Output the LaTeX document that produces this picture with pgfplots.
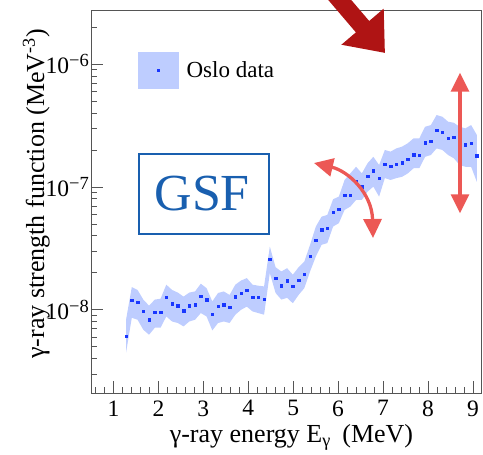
\documentclass[border=0pt]{standalone}
\usepackage{fontspec}
\setmainfont{Liberation Serif}
\usepackage{pgfplots}
\pgfplotsset{compat=1.18}
\usepackage{pgfplotstable}
\usepgfplotslibrary{fillbetween}
\usetikzlibrary{arrows.meta}

\definecolor{bandblue}{RGB}{190,205,255}
\definecolor{ptblue}{RGB}{25,55,255}
\definecolor{gsfblue}{RGB}{25,95,175}
\definecolor{darkarrow}{RGB}{175,20,20}
\definecolor{lightarrow}{RGB}{236,88,85}
\definecolor{axisgray}{RGB}{85,85,85}

\newcommand{\tkf}{\fontsize{23.5}{27}\selectfont}
\newcommand{\tenexp}[1]{{\tkf 10\raisebox{7.3pt}{\fontsize{18.5}{20}\selectfont #1}}}

% E (MeV), f (MeV^-3), lower band, upper band
\pgfplotstableread{
E y lo hi
1.280 6.07e-9 4.47e-9 8.29e-9
1.408 1.20e-8 8.61e-9 1.53e-8
1.536 1.15e-8 8.29e-9 1.45e-8
1.664 9.7e-9 6.88e-9 1.21e-8
1.792 8.3e-9 6.26e-9 1.08e-8
1.920 9.6e-9 7.14e-9 1.21e-8
2.048 9.6e-9 7.14e-9 1.23e-8
2.176 1.27e-8 8.82e-9 1.60e-8
2.304 1.12e-8 8.03e-9 1.45e-8
2.432 1.08e-8 7.80e-9 1.38e-8
2.560 9.8e-9 7.32e-9 1.28e-8
2.688 1.08e-8 8.03e-9 1.38e-8
2.816 1.10e-8 8.29e-9 1.41e-8
2.944 1.29e-8 9.40e-9 1.63e-8
3.072 1.21e-8 8.82e-9 1.50e-8
3.200 9.2e-9 6.79e-9 1.17e-8
3.328 1.07e-8 7.80e-9 1.37e-8
3.456 1.10e-8 8.03e-9 1.41e-8
3.584 1.05e-8 7.80e-9 1.32e-8
3.712 1.28e-8 9.11e-9 1.60e-8
3.840 1.36e-8 1.00e-8 1.73e-8
3.968 1.45e-8 1.06e-8 1.81e-8
4.096 1.26e-8 9.69e-9 1.60e-8
4.224 1.26e-8 9.40e-9 1.57e-8
4.352 1.22e-8 9.11e-9 1.55e-8
4.480 2.58e-8 1.99e-8 3.27e-8
4.608 1.80e-8 1.37e-8 2.22e-8
4.736 1.57e-8 1.21e-8 2.05e-8
4.864 1.72e-8 1.25e-8 2.18e-8
4.992 1.55e-8 1.13e-8 1.93e-8
5.120 1.74e-8 1.32e-8 2.22e-8
5.248 1.95e-8 1.50e-8 2.47e-8
5.376 2.73e-8 2.05e-8 3.38e-8
5.504 3.69e-8 2.71e-8 4.76e-8
5.632 4.50e-8 3.38e-8 5.73e-8
5.760 4.64e-8 3.49e-8 5.92e-8
5.888 6.23e-8 4.76e-8 7.94e-8
6.016 6.59e-8 5.07e-8 8.34e-8
6.144 8.61e-8 6.50e-8 1.14e-7
6.272 8.61e-8 6.92e-8 1.29e-7
6.400 1.115e-7 7.84e-8 1.46e-7
6.528 1.004e-7 7.84e-8 1.29e-7
6.656 1.22e-7 9.16e-8 1.56e-7
6.784 1.36e-7 1.006e-7 1.76e-7
6.912 1.18e-7 8.34e-8 1.51e-7
7.040 1.54e-7 1.18e-7 2.00e-7
7.168 1.47e-7 1.14e-7 1.94e-7
7.296 1.54e-7 1.18e-7 2.06e-7
7.424 1.57e-7 1.21e-7 2.13e-7
7.552 1.69e-7 1.29e-7 2.27e-7
7.680 1.83e-7 1.42e-7 2.49e-7
7.808 1.81e-7 1.42e-7 2.49e-7
7.936 2.29e-7 1.76e-7 3.09e-7
8.064 2.35e-7 1.82e-7 3.19e-7
8.192 2.89e-7 2.06e-7 3.85e-7
8.320 2.78e-7 2.00e-7 3.73e-7
8.448 2.50e-7 1.82e-7 3.40e-7
8.576 2.54e-7 1.71e-7 3.33e-7
8.704 2.22e-7 1.51e-7 3.09e-7
8.832 2.20e-7 1.46e-7 3.00e-7
8.960 2.28e-7 1.46e-7 3.19e-7
9.088 1.80e-7 1.10e-7 2.65e-7
}\gsfdata

\begin{document}
\begin{tikzpicture}
\begin{axis}[
  at={(0pt,0pt)}, anchor=south west,
  width=390pt, height=383pt, scale only axis,
  xmin=0.5, xmax=9.18,
  ymode=log, ymin=2.1e-9, ymax=2.76e-6,
  xtick={1,2,3,4,5,6,7,8,9},
  xticklabels={{\tkf 1},{\tkf 2},{\tkf 3},{\tkf 4},{\tkf 5},{\tkf 6},{\tkf 7},{\tkf 8},{\tkf 9}},
  minor xtick={0.6,0.8,1.2,1.4,1.6,1.8,2.2,2.4,2.6,2.8,3.2,3.4,3.6,3.8,4.2,4.4,4.6,4.8,5.2,5.4,5.6,5.8,6.2,6.4,6.6,6.8,7.2,7.4,7.6,7.8,8.2,8.4,8.6,8.8,9.2},
  ytick={1e-8,1e-7,1e-6},
  yticklabels={\tenexp{−8},\tenexp{−7},\tenexp{−6}},
  minor ytick={3e-9,4e-9,5e-9,6e-9,7e-9,8e-9,9e-9,2e-8,3e-8,4e-8,5e-8,6e-8,7e-8,8e-8,9e-8,2e-7,3e-7,4e-7,5e-7,6e-7,7e-7,8e-7,9e-7,2e-6},
  tick pos=left, tick align=inside,
  major tick length=12pt, minor tick length=6pt,
  axis line style={axisgray, line width=0.9pt},
  tick style={axisgray, line width=0.8pt},
  /pgf/number format/assume math mode=true,
  yticklabel style={inner xsep=2pt},
  xticklabel style={yshift=-4pt},
  label style={font=\fontsize{26}{30}\selectfont},
  xlabel={γ-ray energy E\textsubscript{γ}\hspace{5pt} (MeV)},
  ylabel={γ-ray strength function (MeV\textsuperscript{-3})},
  xlabel style={at={(axis description cs:0.514,-0.1305)}, anchor=base},
  ylabel style={at={(axis description cs:-0.1205,0.52)}, anchor=base},
  legend style={at={(rel axis cs:0.1205,0.8433)}, anchor=west, draw=none, fill=none, inner sep=0pt, cells={anchor=west}, font=\fontsize{23}{27}\selectfont, /tikz/every odd column/.append style={column sep=6pt}},
]
\addplot[name path=hi, draw=none, forget plot] table[x=E, y=hi]{\gsfdata};
\addplot[name path=lo, draw=none, forget plot] table[x=E, y=lo]{\gsfdata};
\addplot[bandblue, forget plot] fill between[of=hi and lo];
\addplot[only marks, mark=square*, mark size=1.2pt, ptblue, forget plot] table[x=E, y=y]{\gsfdata};
\addlegendimage{legend image code/.code={\fill[bandblue] (0pt,-18pt) rectangle (40pt,18pt); \fill[ptblue] (18.8pt,-1.2pt) rectangle (21.2pt,1.2pt);}}
\addlegendentry{Oslo data}
\end{axis}
% annotations
\draw[darkarrow, line width=17.5pt, -{Triangle[length=34.6pt,width=53.3pt]}] (237.5pt,406.2pt) -- (294pt,340pt);
\draw[lightarrow, line width=3.3pt, {Triangle[length=19pt,width=18pt]}-{Triangle[length=19pt,width=18pt]}] (369pt,320.3pt) -- (369pt,179.7pt);
\draw[lightarrow, line width=3.3pt, {Triangle[length=19pt,width=18pt]}-{Triangle[length=19pt,width=18pt]}] (223pt,230pt) .. controls (257pt,222pt) and (281pt,200pt) .. (282pt,155pt);
\draw[gsfblue, line width=1.7pt] (48pt,158.7pt) rectangle (178.3pt,239pt);
\node[gsfblue, anchor=base, inner sep=0pt, font=\fontsize{52}{60}\selectfont] at (111.2pt,182.3pt) {GSF};
\pgfresetboundingbox
\useasboundingbox (-91pt,-62pt) rectangle (392pt,393pt);
\end{tikzpicture}
\end{document}
